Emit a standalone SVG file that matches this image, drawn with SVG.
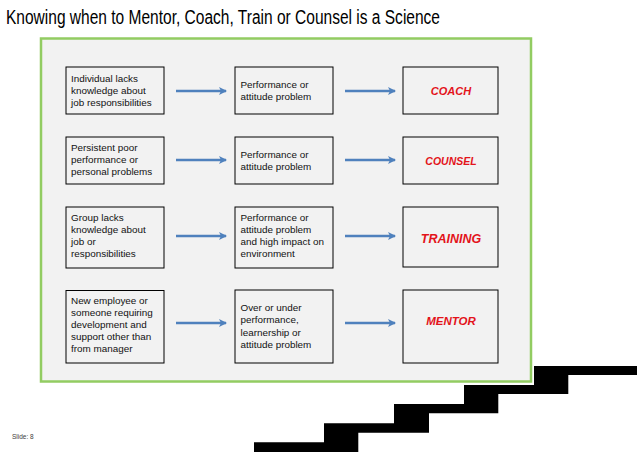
<svg xmlns="http://www.w3.org/2000/svg" width="638" height="452" viewBox="0 0 638 452">
<style>
.t{font-family:"Liberation Sans",Arial,sans-serif;font-size:9.9px;fill:#111}
.box{fill:none;stroke:#000;stroke-width:1}
.lab{font-family:"Liberation Sans",Arial,sans-serif;font-weight:bold;font-style:italic;fill:#e3141b;text-anchor:middle}
.arr{stroke:#4f81bd;stroke-width:2.5;fill:none;marker-end:url(#ah)}
</style>
<defs>
<marker id="ah" markerWidth="10" markerHeight="10" viewBox="0 0 10 10" refX="8" refY="5" orient="auto" markerUnits="userSpaceOnUse">
<path d="M1,1 L9,5 L1,9 L3,5 Z" fill="#4f81bd"/>
</marker>
</defs>
<rect width="638" height="452" fill="#fff"/>
<text x="6" y="24" font-family="Liberation Sans,Arial,sans-serif" font-size="19.5" fill="#000" textLength="434" lengthAdjust="spacingAndGlyphs">Knowing when to Mentor, Coach, Train or Counsel is a Science</text>
<g id="frame">
<rect x="41" y="38.5" width="490" height="343" fill="#f2f2f2" stroke="#92cc62" stroke-width="2.5"/>
</g>
<g id="stairs">
<polygon points="254,452 254,442.3 324,442.3 324,423.3 394,423.3 394,404 464,404 464,385 534,385 534,366 637,366 637,375 568.3,375 568.3,394 498.3,394 498.3,413.3 429,413.3 429,432.7 358.3,432.7 358.3,452" fill="#000"/>
</g>
<g id="connectors">
<line class="arr" x1="176" y1="91" x2="226" y2="91"/>
<line class="arr" x1="345" y1="91" x2="395" y2="91"/>
<line class="arr" x1="176" y1="160" x2="226" y2="160"/>
<line class="arr" x1="345" y1="160" x2="395" y2="160"/>
<line class="arr" x1="176" y1="236" x2="226" y2="236"/>
<line class="arr" x1="345" y1="236" x2="395" y2="236"/>
<line class="arr" x1="176" y1="323" x2="226" y2="323"/>
<line class="arr" x1="345" y1="323" x2="395" y2="323"/>
</g>
<g id="n1a"><rect class="box" x="66" y="67" width="98" height="47"/>
<text class="t" x="71" y="82">Individual lacks</text><text class="t" x="71" y="94">knowledge about</text><text class="t" x="71" y="106">job responsibilities</text></g>
<g id="n1b"><rect class="box" x="235" y="67" width="98" height="47"/>
<text class="t" x="240.5" y="88">Performance or</text><text class="t" x="240.5" y="100">attitude problem</text></g>
<g id="n1c"><rect class="box" x="403" y="67" width="95" height="47"/>
<text class="lab" x="451" y="95" font-size="11">COACH</text></g>
<g id="n2a"><rect class="box" x="66" y="137" width="98" height="47"/>
<text class="t" x="71" y="151">Persistent poor</text><text class="t" x="71" y="163">performance or</text><text class="t" x="71" y="175">personal problems</text></g>
<g id="n2b"><rect class="box" x="235" y="137" width="98" height="47"/>
<text class="t" x="240.5" y="157.5">Performance or</text><text class="t" x="240.5" y="169.5">attitude problem</text></g>
<g id="n2c"><rect class="box" x="403" y="137" width="95" height="47"/>
<text class="lab" x="451" y="165" font-size="10.5">COUNSEL</text></g>
<g id="n3a"><rect class="box" x="66" y="207" width="98" height="61"/>
<text class="t" x="71" y="221">Group lacks</text><text class="t" x="71" y="233">knowledge about</text><text class="t" x="71" y="245">job or</text><text class="t" x="71" y="257">responsibilities</text></g>
<g id="n3b"><rect class="box" x="235" y="207" width="98" height="61"/>
<text class="t" x="240.5" y="221">Performance or</text><text class="t" x="240.5" y="233">attitude problem</text><text class="t" x="240.5" y="245">and high impact on</text><text class="t" x="240.5" y="257">environment</text></g>
<g id="n3c"><rect class="box" x="403" y="207" width="95" height="60"/>
<text class="lab" x="451" y="243" font-size="12.5">TRAINING</text></g>
<g id="n4a"><rect class="box" x="66" y="290.5" width="98" height="72.5"/>
<text class="t" x="71" y="303.5">New employee or</text><text class="t" x="71" y="315.7">someone requiring</text><text class="t" x="71" y="327.9">development and</text><text class="t" x="71" y="340.1">support other than</text><text class="t" x="71" y="352.3">from manager</text></g>
<g id="n4b"><rect class="box" x="235" y="290" width="98" height="73"/>
<text class="t" x="240.5" y="311">Over or under</text><text class="t" x="240.5" y="323.3">performance,</text><text class="t" x="240.5" y="335.6">learnership or</text><text class="t" x="240.5" y="347.9">attitude problem</text></g>
<g id="n4c"><rect class="box" x="403" y="290" width="95" height="73"/>
<text class="lab" x="451" y="325" font-size="11.5">MENTOR</text></g>
<text x="12" y="439" font-family="Liberation Sans,Arial,sans-serif" font-size="6.5" fill="#404040">Slide: 8</text>
</svg>
